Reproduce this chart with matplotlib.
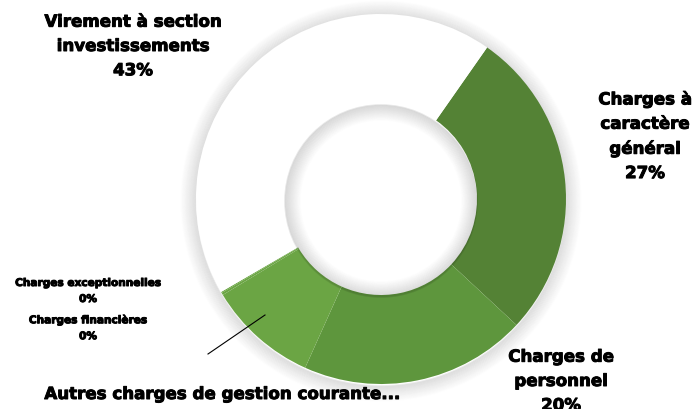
import matplotlib
matplotlib.use("Agg")
import matplotlib.pyplot as plt
import matplotlib.patheffects as pe
from matplotlib.patches import Circle

# Budget breakdown (share of operating expenses, %)
categories = ['Charges à caractère général', 'Charges de personnel',
              'Autres charges de gestion courante', 'Charges exceptionnelles',
              'Charges financières', 'Virement à section investissements']
values = [27.2, 19.8, 9.6, 0.2, 0.1, 43.1]
colors = ['#548235', '#5e963d', '#6ba544', '#6ba544', '#6ba544', '#ffffff']

plt.rcParams['font.family'] = ['DejaVu Sans']

fig = plt.figure(figsize=(6.94, 4.10), dpi=100)
ax = fig.add_axes([0, 0, 1, 1])

cx, cy = 381, 410 - 200
r_out, r_in = 185, 96

# soft shadow around the ring and inside the hole
for k in range(16):
    a = 0.08 * (1 - k / 16)
    ax.add_patch(Circle((cx, cy - 2), r_out + k, fill=False, lw=1.2,
                        color='black', alpha=a, zorder=1))
    ax.add_patch(Circle((cx, cy - 2), r_in - k, fill=False, lw=1.2,
                        color='black', alpha=a * 1.2, zorder=3))

ax.pie(values, colors=colors, startangle=55, counterclock=False,
       center=(cx, cy), radius=r_out,
       wedgeprops=dict(width=r_out - r_in, linewidth=0), frame=True)
ax.set_xlim(0, 694)
ax.set_ylim(0, 410)
ax.set_aspect('equal')
ax.axis('off')

heavy = [pe.withStroke(linewidth=0.7, foreground='black')]
big = dict(fontsize=12, fontweight='bold', ha='center', va='center',
           linespacing=1.45, zorder=5, path_effects=heavy)
small = dict(fontsize=7.6, fontweight='bold', ha='center', va='center',
             linespacing=1.75, zorder=5, path_effects=heavy)

ax.text(133, 410 - 47, 'Virement à section\ninvestissements\n43%', **big)
ax.text(645, 410 - 137, 'Charges à\ncaractère\ngénéral\n27%', **big)
ax.text(561, 410 - 382, 'Charges de\npersonnel\n20%', **big)
ax.text(222, 410 - 395, 'Autres charges de gestion courante...', **big)
ax.text(88, 410 - 292, 'Charges exceptionnelles\n0%', **small)
ax.text(88, 410 - 329, 'Charges financières\n0%', **small)

# leader line from the small slice
ax.plot([265, 208], [410 - 316, 410 - 355], color='black', lw=0.8, zorder=5)

fig.savefig('out.png', dpi=100)
